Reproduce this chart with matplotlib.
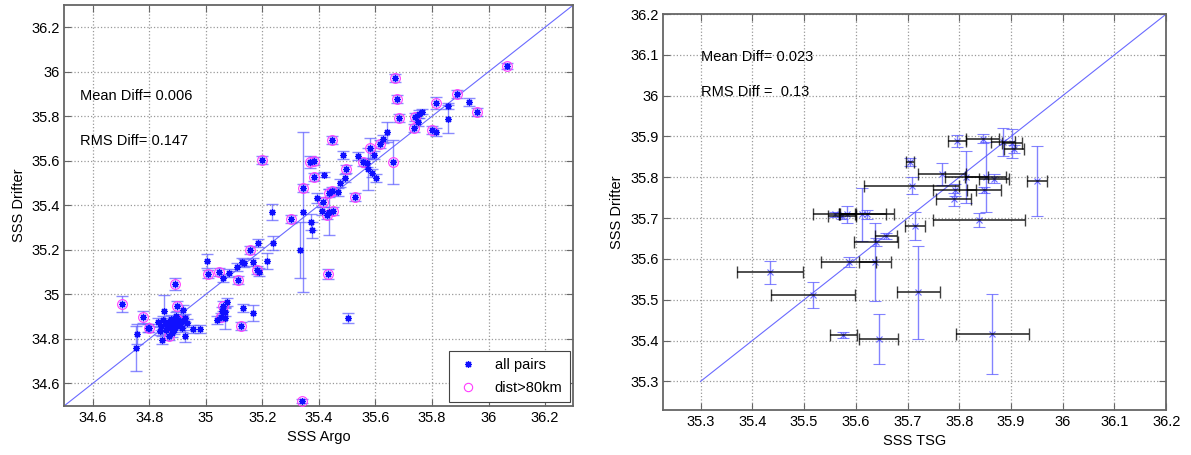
import matplotlib
matplotlib.use("Agg")
import matplotlib.pyplot as plt
import numpy as np

plt.rcParams['font.family'] = ['Liberation Sans', 'DejaVu Sans']
plt.rcParams['font.size'] = 10

# === DATOS: panel izquierdo (Argo vs Drifter) ===
argo_x = [36.065, 35.669, 35.676, 35.685, 35.889, 35.813, 35.858, 35.858, 35.932, 35.960,
          35.739, 35.754, 35.766, 35.752, 35.737, 35.799, 35.813, 35.641, 35.626, 35.615,
          35.581, 35.596, 35.540, 35.557, 35.569, 35.573, 35.662, 35.589, 35.601, 35.448,
          35.486, 35.369, 35.383, 35.382, 35.418, 35.496, 35.493, 35.475, 35.343, 35.344,
          35.333, 35.372, 35.375, 35.431, 35.503, 35.436, 35.233, 35.302, 35.393, 35.416,
          35.436, 35.445, 35.410, 35.430, 35.451, 35.469, 35.528, 35.198, 35.342, 34.704,
          34.777, 34.756, 34.753, 34.796, 34.891, 34.853, 34.897, 34.918, 34.928, 34.954,
          34.980, 35.003, 35.007, 35.047, 35.062, 35.082, 35.109, 35.115, 35.127, 35.136,
          35.157, 35.184, 35.166, 35.180, 35.189, 35.216, 35.239, 35.039, 35.053, 35.062,
          35.056, 35.068, 35.068, 35.074, 35.124, 35.131, 35.166,
          34.831, 34.842, 34.849, 34.856, 34.859, 34.866, 34.874, 34.877, 34.881, 34.888,
          34.891, 34.898, 34.902, 34.909, 34.916, 34.919, 34.838, 34.870, 34.902, 34.800,
          34.927, 34.934, 34.845, 34.881, 34.895]
drifter_y = [36.027, 35.971, 35.876, 35.791, 35.900, 35.861, 35.846, 35.787, 35.864, 35.818,
             35.798, 35.810, 35.821, 35.776, 35.746, 35.738, 35.729, 35.728, 35.697, 35.676,
             35.656, 35.626, 35.623, 35.593, 35.589, 35.563, 35.596, 35.544, 35.524, 35.694,
             35.626, 35.596, 35.601, 35.526, 35.538, 35.563, 35.524, 35.499, 35.477, 35.370,
             35.199, 35.327, 35.289, 35.090, 34.895, 35.370, 35.371, 35.340, 35.432, 35.416,
             35.454, 35.466, 35.376, 35.357, 35.376, 35.461, 35.439, 35.604, 34.521, 34.955,
             34.897, 34.820, 34.758, 34.850, 35.047, 34.927, 34.948, 34.930, 34.814, 34.843,
             34.846, 35.151, 35.090, 35.099, 35.072, 35.095, 35.124, 35.065, 35.147, 35.142,
             35.200, 35.229, 35.147, 35.110, 35.102, 35.150, 35.232, 34.885, 34.900, 34.948,
             34.927, 34.893, 34.922, 34.967, 34.858, 34.937, 34.918,
             34.876, 34.858, 34.885, 34.867, 34.840, 34.876, 34.853, 34.889, 34.862, 34.840,
             34.880, 34.858, 34.885, 34.867, 34.849, 34.880, 34.836, 34.813, 34.885, 34.850,
             34.894, 34.871, 34.795, 34.827, 34.903]
drifter_err = [0.013, 0.018, 0.018, 0.018, 0.018, 0.027, 0.013, 0.063, 0.018, 0.018,
               0.018, 0.018, 0.013, 0.018, 0.018, 0.018, 0.018, 0.045, 0.018, 0.018,
               0.045, 0.018, 0.018, 0.018, 0.018, 0.095, 0.098, 0.018, 0.018, 0.018,
               0.018, 0.027, 0.018, 0.018, 0.013, 0.018, 0.018, 0.018, 0.018, 0.358,
               0.126, 0.036, 0.036, 0.022, 0.022, 0.103, 0.036, 0.018, 0.022, 0.022,
               0.018, 0.018, 0.018, 0.018, 0.018, 0.018, 0.018, 0.018, 0.009, 0.036,
               0.027, 0.045, 0.100, 0.018, 0.027, 0.070, 0.022, 0.022, 0.027, 0.018,
               0.018, 0.031, 0.018, 0.018, 0.018, 0.018, 0.018, 0.018, 0.018, 0.018,
               0.018, 0.018, 0.018, 0.018, 0.018, 0.036, 0.031, 0.018, 0.018, 0.022,
               0.018, 0.050, 0.018, 0.018, 0.018, 0.018, 0.036,
               0.018, 0.018, 0.018, 0.018, 0.018, 0.018, 0.018, 0.018, 0.018, 0.018,
               0.018, 0.018, 0.018, 0.018, 0.018, 0.018, 0.018, 0.018, 0.018, 0.018,
               0.018, 0.018, 0.018, 0.018, 0.018]
far_away = [1, 1, 1, 1, 1, 1, 0, 0, 0, 1, 1, 0, 0, 0, 1, 1, 0, 0, 0, 1,
            1, 0, 0, 1, 0, 0, 1, 0, 0, 1, 0, 1, 1, 1, 0, 1, 0, 0, 1, 0,
            0, 0, 0, 1, 0, 0, 0, 1, 0, 1, 1, 1, 0, 1, 1, 0, 1, 1, 1, 1,
            1, 0, 0, 0, 1, 0, 1, 0, 0, 0, 0, 0, 1, 1, 0, 0, 0, 1, 0, 0,
            1, 0, 0, 1, 0, 0, 0, 0, 1, 1, 0, 0, 0, 0, 1, 0, 0,
            0, 0, 0, 0, 0, 0, 0, 0, 0, 0, 0, 0, 1, 0, 0, 0, 0, 1, 1, 1,
            0, 0, 0, 0, 0]

# === DATOS: panel derecho (TSG vs Drifter) ===
tsg_x = [35.705, 35.796, 35.845, 35.884, 35.902, 35.906, 35.767, 35.814, 35.851, 35.867,
         35.950, 35.708, 35.791, 35.848, 35.789, 35.838, 35.434, 35.586, 35.637, 35.639,
         35.658, 35.613, 35.583, 35.559, 35.574, 35.621, 35.715, 35.517, 35.721, 35.576,
         35.644, 35.864]
tsg_err = [0.008, 0.017, 0.031, 0.023, 0.019, 0.019, 0.046, 0.042, 0.039, 0.029,
           0.020, 0.092, 0.042, 0.033, 0.033, 0.089, 0.064, 0.054, 0.031, 0.042,
           0.021, 0.046, 0.015, 0.042, 0.027, 0.052, 0.019, 0.081, 0.042, 0.026,
           0.038, 0.071]
drift_tsg_y = [35.838, 35.889, 35.895, 35.887, 35.883, 35.869, 35.808, 35.801, 35.801, 35.797,
               35.791, 35.779, 35.769, 35.769, 35.746, 35.695, 35.567, 35.593, 35.593, 35.642,
               35.657, 35.709, 35.709, 35.709, 35.705, 35.709, 35.680, 35.511, 35.518, 35.413,
               35.403, 35.416]
drift_tsg_err = [0.010, 0.015, 0.012, 0.034, 0.036, 0.010, 0.027, 0.064, 0.086, 0.012,
                 0.085, 0.021, 0.015, 0.007, 0.016, 0.017, 0.029, 0.012, 0.096, 0.010,
                 0.007, 0.066, 0.021, 0.007, 0.007, 0.012, 0.034, 0.032, 0.114, 0.007,
                 0.061, 0.098]

ticks_left = [34.6, 34.8, 35.0, 35.2, 35.4, 35.6, 35.8, 36.0, 36.2]
ticks_right = [35.3, 35.4, 35.5, 35.6, 35.7, 35.8, 35.9, 36.0, 36.1, 36.2]

# === FIGURA ===
fig = plt.figure(figsize=(11.91, 4.55), dpi=100)
ax1 = fig.add_axes([0.0541, 0.1084, 0.4273, 0.8807])
ax2 = fig.add_axes([0.5569, 0.0989, 0.4223, 0.8703])

blue_err = '#5a5aff'
asterisco = (8, 2, 0)   # marcador tipo MATLAB '*'

# --- panel izquierdo ---
ax1.plot([34.5, 36.3], [34.5, 36.3], color='#6a6aff', lw=0.8, zorder=1)
ax1.errorbar(argo_x, drifter_y, yerr=drifter_err, fmt='none', ecolor=blue_err,
             elinewidth=1, capsize=4, alpha=0.7, zorder=2)
far = np.array(far_away, dtype=bool)
ax1.plot(np.array(argo_x)[far], np.array(drifter_y)[far], 'o', ms=7, mfc='none',
         mec='#ff3cff', mew=0.8, zorder=3)
ax1.plot(argo_x, drifter_y, ls='none', marker=asterisco, color='#1010ff', ms=5,
         mew=0.9, zorder=4, label='all pairs')
ax1.plot([], [], 'o', ms=6, mfc='none', mec='#ff3cff', mew=0.8, label='dist>80km')
ax1.text(34.555, 35.89, 'Mean Diff= 0.006', fontsize=10.5, va='center')
ax1.text(34.555, 35.69, 'RMS Diff= 0.147', fontsize=10.5, va='center')
leg = ax1.legend(loc='lower right', fontsize=10.5, fancybox=False, framealpha=1,
                 edgecolor='#444', borderaxespad=0.25, handletextpad=1.0,
                 handlelength=1.6, borderpad=0.5, labelspacing=0.6)
leg.get_frame().set_linewidth(0.8)
ax1.set_xlim(34.5, 36.3)
ax1.set_ylim(34.5, 36.3)
ax1.set_xticks(ticks_left)
ax1.set_yticks(ticks_left)
ax1.set_xticklabels(['%g' % t for t in ticks_left])
ax1.set_yticklabels(['%g' % t for t in ticks_left])
ax1.set_xlabel('SSS Argo', fontsize=10.5)
ax1.set_ylabel('SSS Drifter', fontsize=10.5)

# --- panel derecho ---
ax2.plot([35.3, 36.2], [35.3, 36.2], color='#6a6aff', lw=0.8, zorder=1)
ax2.errorbar(tsg_x, drift_tsg_y, yerr=drift_tsg_err, fmt='x', color='#3a3aff',
             ecolor=blue_err, ms=4, mew=0.8, elinewidth=1, capsize=4, alpha=0.75, zorder=2)
ax2.errorbar(tsg_x, drift_tsg_y, xerr=tsg_err, fmt='none', ecolor='black',
             elinewidth=1.3, capsize=4, alpha=0.75, zorder=3)
ax2.text(35.3, 36.095, 'Mean Diff= 0.023', fontsize=10.5, va='center')
ax2.text(35.3, 36.01, 'RMS Diff =  0.13', fontsize=10.5, va='center')
ax2.set_xlim(35.228, 36.2)
ax2.set_ylim(35.23, 36.2)
ax2.set_xticks(ticks_right)
ax2.set_yticks(ticks_right)
ax2.set_xticklabels(['%g' % t for t in ticks_right])
ax2.set_yticklabels(['%g' % t for t in ticks_right])
ax2.set_xlabel('SSS TSG', fontsize=10.5)
ax2.set_ylabel('SSS Drifter', fontsize=10.5)

# estilo tipo MATLAB
for ax in (ax1, ax2):
    ax.grid(True, linestyle=':', color='#999999', lw=0.9)
    ax.set_axisbelow(True)
    for s in ax.spines.values():
        s.set_color('#666666')
        s.set_linewidth(1.3)
    ax.tick_params(direction='in', top=True, right=True, length=5,
                   color='#666666', labelsize=10.5)

fig.savefig('out.png', dpi=100)
